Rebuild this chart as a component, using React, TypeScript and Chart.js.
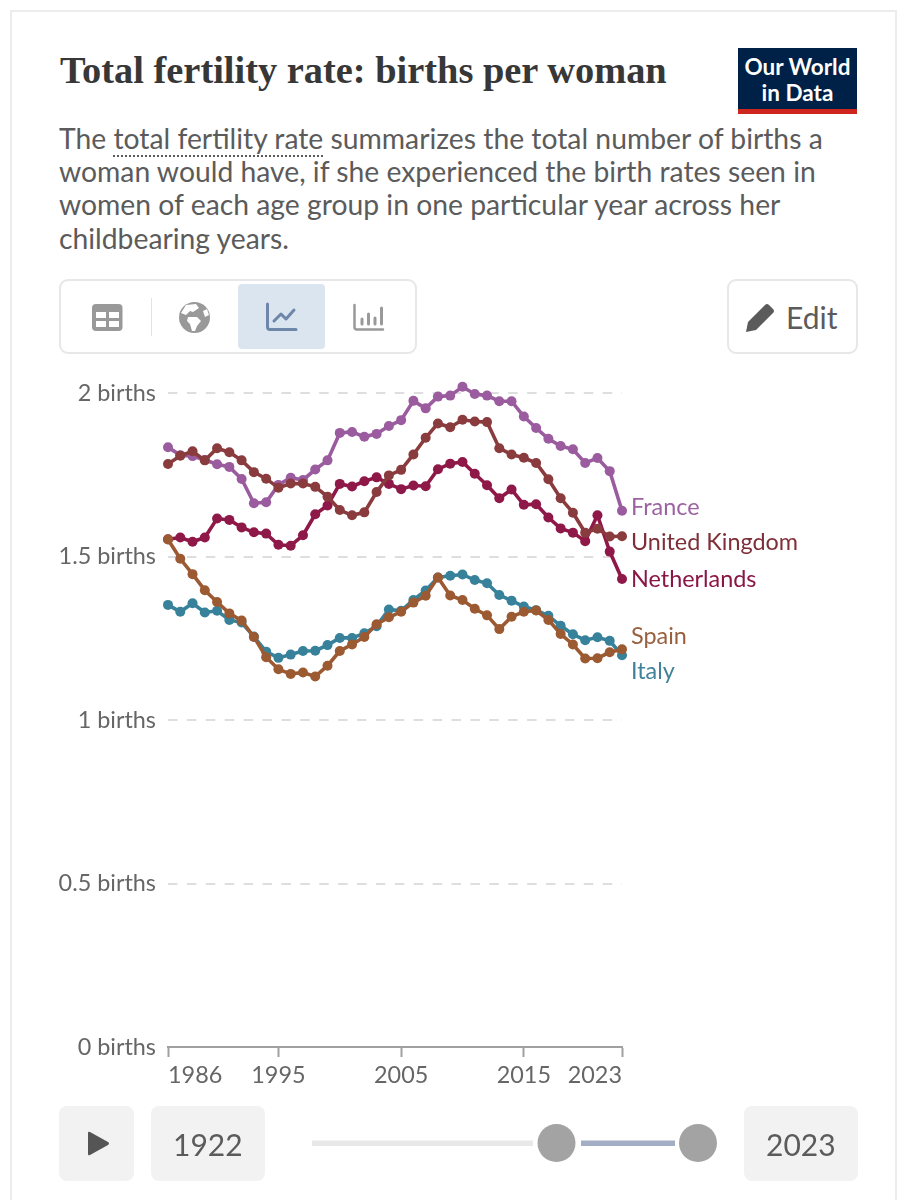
import React, { useEffect, useRef } from "react";
import { Chart, registerables } from "chart.js";

Chart.register(...registerables);

const years = [1986,1987,1988,1989,1990,1991,1992,1993,1994,1995,1996,1997,1998,1999,2000,2001,2002,2003,2004,2005,2006,2007,2008,2009,2010,2011,2012,2013,2014,2015,2016,2017,2018,2019,2020,2021,2022,2023];
const france = [1.834,1.81,1.807,1.795,1.782,1.774,1.737,1.663,1.666,1.719,1.741,1.734,1.766,1.794,1.878,1.881,1.866,1.875,1.899,1.917,1.976,1.953,1.989,1.992,2.019,1.997,1.992,1.975,1.975,1.928,1.893,1.86,1.838,1.828,1.786,1.801,1.761,1.64];
const uk = [1.783,1.808,1.822,1.794,1.831,1.819,1.794,1.758,1.738,1.71,1.723,1.723,1.713,1.683,1.642,1.626,1.635,1.697,1.748,1.765,1.812,1.863,1.907,1.895,1.918,1.913,1.911,1.831,1.812,1.802,1.786,1.736,1.678,1.634,1.573,1.585,1.561,1.562];
const netherlands = [1.553,1.558,1.545,1.558,1.616,1.612,1.589,1.574,1.57,1.536,1.533,1.565,1.629,1.656,1.722,1.714,1.73,1.742,1.722,1.706,1.717,1.715,1.767,1.784,1.789,1.753,1.718,1.678,1.705,1.658,1.66,1.619,1.586,1.573,1.547,1.626,1.515,1.431];
const spain = [1.552,1.493,1.446,1.397,1.361,1.326,1.304,1.254,1.192,1.155,1.141,1.145,1.133,1.166,1.211,1.231,1.254,1.293,1.314,1.331,1.359,1.38,1.436,1.381,1.367,1.34,1.32,1.278,1.316,1.331,1.335,1.306,1.263,1.231,1.188,1.189,1.207,1.216];
const italy = [1.352,1.331,1.357,1.329,1.334,1.306,1.298,1.255,1.209,1.19,1.2,1.211,1.212,1.229,1.251,1.251,1.265,1.287,1.338,1.334,1.367,1.396,1.436,1.441,1.445,1.428,1.418,1.382,1.365,1.347,1.336,1.319,1.288,1.262,1.244,1.253,1.242,1.198];

const yearTicks = [1986, 1995, 2005, 2015, 2023];
const yTicks = [0, 0.5, 1, 1.5, 2];

const seriesNames = ["Spain", "Italy", "United Kingdom", "Netherlands", "France"];
const seriesValues = [spain, italy, uk, netherlands, france];
const seriesColors = ["#9c5a33", "#37829a", "#8a3b3d", "#8e1848", "#9a5c9e"];
const labelColors = ["#99603f", "#3f8299", "#7f2f38", "#8a1645", "#9c62a2"];
// Dodged end-label heights, in axis units, as the labels sit apart from their lines
const labelHeights = [1.254, 1.147, 1.544, 1.431, 1.651];

const FONT = "Lato, sans-serif";
const TEXT = "#5b5b5b";

const endLabels = {
  id: "endLabels",
  afterDatasetsDraw(chart: any) {
    const { ctx, scales } = chart;
    ctx.save();
    ctx.font = `23.4px ${FONT}`;
    ctx.textAlign = "left";
    ctx.textBaseline = "middle";
    seriesNames.forEach((name, i) => {
      ctx.fillStyle = labelColors[i];
      ctx.fillText(name, scales.x.right + 9, scales.y.getPixelForValue(labelHeights[i]));
    });
    ctx.restore();
  },
};

const box = (l: number, t: number, w: number, h: number, extra: any = {}): any => ({
  position: "absolute", left: l, top: t, width: w, height: h, boxSizing: "border-box", ...extra,
});

const textLine = (l: number, t: number, size: number, extra: any = {}): any => ({
  position: "absolute", left: l, top: t, fontFamily: FONT, fontSize: size, color: TEXT, whiteSpace: "nowrap", lineHeight: "33px", ...extra,
});

export default function App() {
  const ref = useRef<HTMLCanvasElement | null>(null);
  useEffect(() => {
    const chart = new Chart(ref.current as HTMLCanvasElement, {
      type: "line",
      data: {
        datasets: seriesNames.map((name, i) => ({
          label: name,
          data: years.map((y, j) => ({ x: y, y: seriesValues[i][j] })),
          borderColor: seriesColors[i],
          backgroundColor: seriesColors[i],
          borderWidth: 3.6,
          pointRadius: 5,
          pointBorderWidth: 0,
          tension: 0,
          clip: false as any,
        })),
      },
      options: {
        animation: false,
        responsive: false,
        devicePixelRatio: 1,
        layout: { padding: { top: 360.3, right: 297, bottom: 113, left: 0 } },
        plugins: { legend: { display: false }, tooltip: { enabled: false }, title: { display: false } },
        scales: {
          x: {
            type: "linear",
            min: 1986,
            max: 2023,
            afterBuildTicks: (s: any) => { s.ticks = yearTicks.map((value) => ({ value })); },
            afterFit: (s: any) => { s.height = 40; },
            border: { color: "#a0a0a0", width: 2 },
            grid: { drawOnChartArea: false, tickLength: 10, tickColor: "#a0a0a0", tickWidth: 2 },
            ticks: {
              align: "inner",
              autoSkip: false,
              maxRotation: 0,
              padding: 4,
              color: "#666",
              font: { family: "Lato", size: 23.4 },
              callback: (v: any) => String(v),
            },
          },
          y: {
            min: 0,
            max: 2.1,
            afterBuildTicks: (s: any) => { s.ticks = yTicks.map((value) => ({ value })); },
            afterFit: (s: any) => { s.width = 168; },
            border: { display: false, dash: [9.5, 9.4] },
            grid: {
              drawTicks: false,
              lineWidth: 2,
              color: (c: any) => (c.tick && c.tick.value === 0 ? "rgba(0,0,0,0)" : "#dedede"),
            },
            ticks: {
              padding: 12,
              color: "#666",
              font: { family: "Lato", size: 23.4 },
              callback: (v: any) => `${v} births`,
            },
          },
        },
      },
      plugins: [endLabels],
    } as any);
    return () => chart.destroy();
  }, []);

  return (
    <div style={{ position: "relative", width: 919, height: 1200, background: "#fff", overflow: "hidden" }}>
      <style>{`body{margin:0;background:#fff}`}</style>
      <div style={box(10, 10, 887, 1210, { border: "2px solid #ececec" })} />

      <div style={{ position: "absolute", left: 60, top: 46, fontFamily: "'Liberation Serif', serif", fontWeight: 700, fontSize: 38.4, color: "#373737", whiteSpace: "nowrap", lineHeight: "48px" }}>
        Total fertility rate: births per woman
      </div>

      <div style={box(738, 48, 119, 66, { background: "#002147" })}>
        <div style={box(0, 61, 119, 5, { background: "#ce261e" })} />
        <div style={{ position: "absolute", left: 0, top: 6, width: 119, textAlign: "center", fontFamily: FONT, fontWeight: 700, fontSize: 22.5, lineHeight: "26px", color: "#fff" }}>
          Our World<br />in Data
        </div>
      </div>

      <div style={textLine(59, 122, 28.3)}>
        The <span style={{ borderBottom: "2px dotted #5b5b5b", paddingBottom: 0 }}>total fertility rate</span> summarizes the total number of births a
      </div>
      <div style={textLine(59, 155, 28.3)}>woman would have, if she experienced the birth rates seen in</div>
      <div style={textLine(59, 188, 28.3)}>women of each age group in one particular year across her</div>
      <div style={textLine(59, 222, 28.3)}>childbearing years.</div>

      <div style={box(59, 279, 358, 75, { border: "2px solid #e7e7e7", borderRadius: 9 })} />
      <div style={box(238, 284, 87, 65, { background: "#dbe5f0", borderRadius: 4 })} />
      <div style={box(151, 298, 1, 38, { background: "#e3e3e3" })} />
      <div style={box(59, 1106, 75, 75, { background: "#f2f2f2", borderRadius: 8 })} />
      <div style={box(151, 1106, 114, 75, { background: "#f2f2f2", borderRadius: 8 })} />
      <div style={box(744, 1106, 114, 75, { background: "#f2f2f2", borderRadius: 8 })} />
      <svg style={{ position: "absolute", left: 0, top: 0 }} width={919} height={1200} viewBox="0 0 919 1200">
        <rect x={92} y={304} width={30.5} height={27} rx={4} fill="#999" />
        <rect x={96} y={312} width={10} height={6} fill="#fff" />
        <rect x={109} y={312} width={10} height={6} fill="#fff" />
        <rect x={96} y={321} width={10} height={6} fill="#fff" />
        <rect x={109} y={321} width={10} height={6} fill="#fff" />

        <circle cx={194.5} cy={317.5} r={15.5} fill="#999" />
        <path d="M186 305 L196 304 L199 308 L193 312 L190 311 L186 315 L181 313 Z M188 317 L197 317 L201 321 L197 326 L195 331 L192 331 L190 324 L187 321 Z M203 311 L207 309 L209 315 L205 317 Z" fill="#fff" />

        <path d="M267.5 304 V327 Q267.5 329.5 270 329.5 H296" fill="none" stroke="#6e87a8" strokeWidth={3} strokeLinecap="round" />
        <path d="M274 321 L281 314 L286 319 L294 310" fill="none" stroke="#6e87a8" strokeWidth={3} strokeLinecap="round" strokeLinejoin="round" />

        <path d="M354.5 305 V327 Q354.5 329.5 357 329.5 H383" fill="none" stroke="#999" strokeWidth={2.5} strokeLinecap="round" />
        <path d="M362 319 V324 M368.5 314 V324 M375 318 V324 M381.5 308 V324" fill="none" stroke="#999" strokeWidth={3} strokeLinecap="round" />

        <path d="M746 332 L748 322 L765 305 Q767 303 769 305 L773 309 Q775 311 773 313 L756 330 Z" fill="#5b5b5b" />
        <path d="M88 1133 Q88 1131 90 1132 L108 1142 Q110 1143.5 108 1145 L90 1155 Q88 1156 88 1154 Z" fill="#555" />

        <rect x={312} y={1140.5} width={221} height={5.5} fill="#e8e8e8" />
        <rect x={581} y={1140.5} width={94} height={5.5} fill="#a3aec4" />
        <circle cx={556.5} cy={1143} r={19} fill="#a3a3a3" />
        <circle cx={698} cy={1143} r={19} fill="#a3a3a3" />
      </svg>

      <div style={box(727, 279, 131, 75, { border: "2px solid #e7e7e7", borderRadius: 9 })} />
      <div style={textLine(786, 301, 30)}>Edit</div>

      <canvas ref={ref} width={919} height={1200} style={{ position: "absolute", left: 0, top: 0 }} />

      <div style={textLine(173, 1128, 30)}>1922</div>
      <div style={textLine(766, 1128, 30)}>2023</div>
    </div>
  );
}
